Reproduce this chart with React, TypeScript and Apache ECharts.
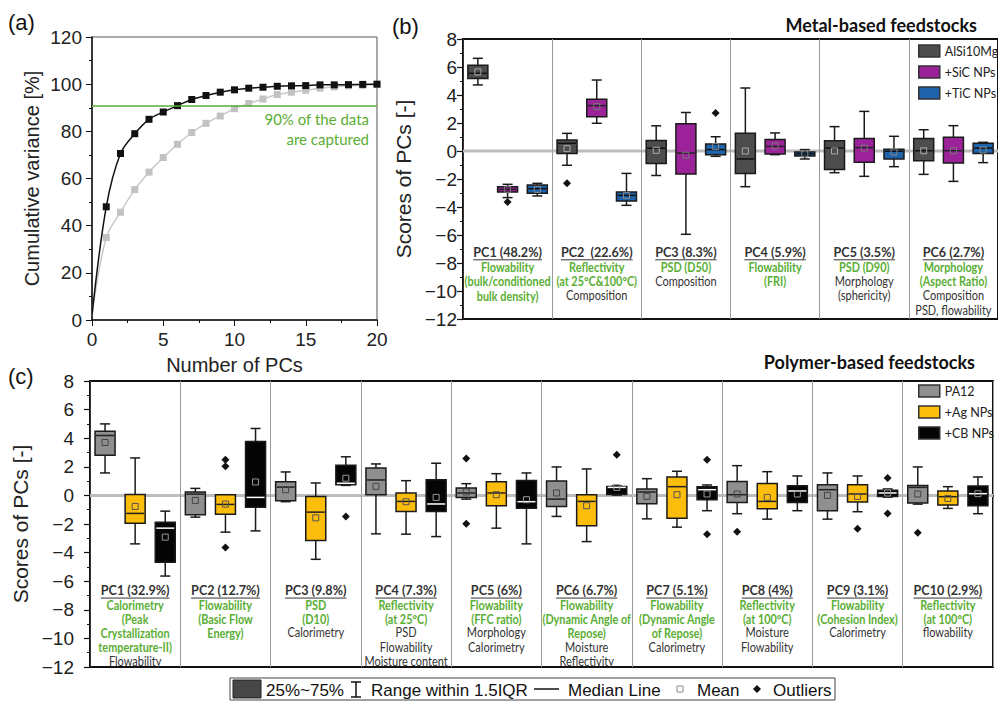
import React, { useEffect, useRef } from 'react';
import * as echarts from 'echarts';

// ---------- Panel (a) data ----------
const pcNumbers = [0, 1, 2, 3, 4, 5, 6, 7, 8, 9, 10, 11, 12, 13, 14, 15, 16, 17, 18, 19, 20];
const cumMetal = [2, 48, 70.6, 79, 85.1, 88.2, 90.9, 93.5, 95.2, 96.6, 97.6, 98.3, 98.7, 99.1, 99.3, 99.4, 99.7, 99.7, 99.8, 99.9, 100];
const cumPolymer = [2, 35, 45.7, 55.3, 62.7, 68.9, 74.5, 79.5, 83.4, 86.5, 89.6, 91.8, 93.7, 95.6, 96.6, 97.4, 98.3, 98.8, 99.3, 99.5, 99.8];
const capturedLevel = 91;

// ---------- Panel (b) data: [lowWhisker, Q1, median, Q3, highWhisker, mean] ----------
const metalPCs = ['PC1 (48.2%)', 'PC2  (22.6%)', 'PC3 (8.3%)', 'PC4 (5.9%)', 'PC5 (3.5%)', 'PC6 (2.7%)'];
const metalKey = [
  ['Flowability', '(bulk/conditioned', 'bulk density)'],
  ['Reflectivity', '(at 25°C&100°C)'],
  ['PSD (D50)'],
  ['Flowability', '(FRI)'],
  ['PSD (D90)'],
  ['Morphology', '(Aspect Ratio)'],
];
const metalOther = [[], ['Composition'], ['Composition'], [], ['Morphology', '(sphericity)'], ['Composition', 'PSD, flowability']];
const alSi10Mg = [
  [4.72, 5.17, 5.55, 6.12, 6.62, 5.65],
  [-1.02, -0.17, 0.55, 0.79, 1.26, 0.17],
  [-1.75, -0.9, 0.2, 0.75, 1.8, 0.05],
  [-2.55, -1.6, -0.57, 1.26, 4.5, 0.0],
  [-1.55, -1.33, 0.21, 0.74, 1.74, 0.0],
  [-1.67, -0.69, 0.02, 0.9, 1.52, 0.02],
];
const sicNPs = [
  [-3.33, -2.93, -2.74, -2.55, -2.38, -2.74],
  [1.98, 2.45, 3.24, 3.69, 5.07, 3.17],
  [-5.95, -1.65, -0.15, 1.95, 2.75, -0.3],
  [-0.26, -0.21, 0.33, 0.83, 1.29, 0.36],
  [-1.81, -0.81, 0.24, 0.9, 2.83, 0.21],
  [-2.17, -0.86, 0.02, 0.98, 1.81, 0.02],
];
const ticNPs = [
  [-3.21, -3.02, -2.69, -2.43, -2.31, -2.74],
  [-3.88, -3.57, -3.17, -2.93, -1.6, -3.17],
  [-0.38, -0.26, 0.1, 0.5, 1.02, 0.33],
  [-0.57, -0.36, -0.21, -0.07, 0.1, -0.21],
  [-1.12, -0.57, -0.02, 0.12, 1.05, -0.07],
  [-0.83, -0.17, 0.21, 0.55, 0.62, 0.07],
];
const alSi10MgOut = [[1, -2.31]];
const sicOut = [[0, -3.64]];
const ticOut = [[2, 2.71]];

// ---------- Panel (c) data ----------
const polyPCs = ['PC1 (32.9%)', 'PC2 (12.7%)', 'PC3 (9.8%)', 'PC4 (7.3%)', 'PC5 (6%)', 'PC6 (6.7%)', 'PC7 (5.1%)', 'PC8 (4%)', 'PC9 (3.1%)', 'PC10 (2.9%)'];
const polyKey = [
  ['Calorimetry', '(Peak', 'Crystallization', 'temperature-II)'],
  ['Flowability', '(Basic Flow', 'Energy)'],
  ['PSD', '(D10)'],
  ['Reflectivity', '(at 25°C)'],
  ['Flowability', '(FFC ratio)'],
  ['Flowability', '(Dynamic Angle of', 'Repose)'],
  ['Flowability', '(Dynamic Angle', 'of Repose)'],
  ['Reflectivity', '(at 100°C)'],
  ['Flowability', '(Cohesion Index)'],
  ['Reflectivity', '(at 100°C)'],
];
const polyOther = [
  ['Flowability'], [], ['Calorimetry'], ['PSD', 'Flowability', 'Moisture content'], ['Morphology', 'Calorimetry'],
  ['Moisture', 'Reflectivity'], ['Calorimetry'], ['Moisture', 'Flowability'], ['Calorimetry'], ['flowability'],
];
const pa12 = [
  [1.57, 2.81, 4.19, 4.49, 5.0, 3.7],
  [-1.52, -1.36, 0.09, 0.23, 0.49, -0.35],
  [-0.44, -0.37, 0.58, 0.96, 1.64, 0.4],
  [-2.69, 0.05, 1.08, 1.92, 2.2, 0.63],
  [-0.26, -0.14, 0.17, 0.52, 0.82, 0.24],
  [-1.47, -0.77, -0.26, 1.01, 1.99, 0.17],
  [-1.64, -0.58, 0.24, 0.45, 1.17, -0.07],
  [-1.28, -0.49, 0.05, 0.98, 2.08, 0.1],
  [-1.66, -1.07, 0.4, 0.75, 1.57, 0.0],
  [-0.61, -0.54, 0.56, 0.7, 1.99, 0.1],
];
const agNPs = [
  [-3.39, -1.94, -1.26, 0.07, 2.62, -0.77],
  [-2.57, -1.31, -0.63, 0.05, 0.05, -0.61],
  [-4.47, -3.16, -1.17, -0.07, 0.87, -1.57],
  [-2.71, -1.12, -0.42, 0.17, 1.03, -0.44],
  [-2.29, -0.72, 0.17, 0.96, 1.52, 0.05],
  [-3.23, -2.13, -0.42, 0.05, 1.85, -0.72],
  [-2.22, -1.59, 0.61, 1.29, 1.69, 0.05],
  [-1.66, -0.93, -0.42, 0.84, 1.66, -0.14],
  [-1.14, -0.47, 0.1, 0.75, 1.36, -0.07],
  [-0.91, -0.68, -0.09, 0.31, 0.61, -0.21],
];
const cbNPs = [
  [-5.64, -4.68, -2.29, -1.87, -1.1, -2.92],
  [-2.48, -0.82, -0.14, 3.77, 4.68, 0.94],
  [0.7, 0.75, 0.85, 2.1, 2.7, 1.2],
  [-2.88, -1.12, -0.6, 1.1, 2.25, -0.14],
  [-3.39, -0.89, -0.44, 1.05, 1.57, -0.3],
  [0.02, 0.07, 0.56, 0.62, 0.68, 0.56],
  [-1.07, -0.3, 0.4, 0.61, 0.73, 0.1],
  [-1.07, -0.49, 0.31, 0.68, 1.36, 0.1],
  [-0.12, -0.07, 0.17, 0.36, 0.45, 0.17],
  [-1.28, -0.72, 0.12, 0.66, 1.29, 0.12],
];
const pa12Out = [[4, 2.58], [4, -1.99], [7, -2.55], [9, -2.62]];
const agOut = [[1, 2.5], [1, 2.04], [1, -3.65], [8, -2.34]];
const cbOut = [[2, -1.47], [5, 2.84], [6, 2.5], [6, -2.71], [8, 1.22], [8, -1.26]];

const scoreTicks = [-12, -10, -8, -6, -4, -2, 0, 2, 4, 6, 8];

// ---------- helpers ----------
const GREEN = '#5aae34';
const AX = 'Liberation Sans, Arial, sans-serif';
const CAL = 'Lato, "Noto Sans", sans-serif';
let measureCtx: CanvasRenderingContext2D | null = null;
const measure = (text: string, font: string) => {
  if (!measureCtx) measureCtx = document.createElement('canvas').getContext('2d');
  if (!measureCtx) return text.length * 6;
  measureCtx.font = font;
  return measureCtx.measureText(text).width;
};
const minus = (v: number) => String(v).replace('-', '\u2212');

function boxSeries(name: string, arr: number[][], g: number, offset: number, fill: string, medianColor: string, meanColor: string) {
  return {
    type: 'custom', name, xAxisIndex: g, yAxisIndex: g, z: 3, silent: true,
    itemStyle: { color: fill, borderColor: '#1a1a1a', borderWidth: 1.5 },
    data: arr.map((d, i) => [i, ...d]),
    encode: { x: 0, y: [1, 2, 3, 4, 5, 6] },
    renderItem: (params: any, api: any) => {
      const i = api.value(0);
      const band = api.size([1, 0])[0];
      const cx = api.coord([i, 0])[0] + offset * band;
      const Y = (k: number) => api.coord([i, api.value(k)])[1];
      const lo = Y(1), q1 = Y(2), med = Y(3), q3 = Y(4), hi = Y(5), mean = Y(6);
      const bw = 20, cw = 10;
      const st = { stroke: '#1a1a1a', lineWidth: 1.5 };
      return {
        type: 'group', children: [
          { type: 'line', shape: { x1: cx, y1: hi, x2: cx, y2: q3 }, style: st },
          { type: 'line', shape: { x1: cx, y1: q1, x2: cx, y2: lo }, style: st },
          { type: 'line', shape: { x1: cx - cw / 2, y1: hi, x2: cx + cw / 2, y2: hi }, style: st },
          { type: 'line', shape: { x1: cx - cw / 2, y1: lo, x2: cx + cw / 2, y2: lo }, style: st },
          { type: 'rect', shape: { x: cx - bw / 2, y: q3, width: bw, height: Math.max(q1 - q3, 1) }, style: { fill, stroke: '#1a1a1a', lineWidth: 1.5 } },
          { type: 'line', shape: { x1: cx - bw / 2 + 1, y1: med, x2: cx + bw / 2 - 1, y2: med }, style: { stroke: medianColor, lineWidth: 1.5 } },
          { type: 'rect', shape: { x: cx - 3, y: mean - 3, width: 6, height: 6 }, style: { fill: 'none', stroke: meanColor, lineWidth: 1 } },
        ],
      };
    },
  };
}

function outlierSeries(arr: number[][], g: number, offset: number) {
  return {
    type: 'custom', xAxisIndex: g, yAxisIndex: g, z: 4, silent: true,
    data: arr,
    renderItem: (params: any, api: any) => {
      const i = api.value(0);
      const band = api.size([1, 0])[0];
      const p = api.coord([i, api.value(1)]);
      const x = p[0] + offset * band, y = p[1], r = 4;
      return { type: 'polygon', shape: { points: [[x, y - r], [x + r, y], [x, y + r], [x - r, y]] }, style: { fill: '#111' } };
    },
  };
}

function labelSeries(titles: string[], keys: string[][], others: string[][], g: number, titleVal: number, gap: number) {
  const tFont = `bold 13px ${CAL}`;
  const kFont = `bold 12.5px ${CAL}`;
  const oFont = `12.5px ${CAL}`;
  const tScale = 0.97, kScale = 0.87, oScale = 0.88;
  const txt = (text: string, x: number, y: number, font: string, fill: string, s: number) => ({
    type: 'text', x, y, scaleX: s, scaleY: 1,
    style: { text, x: 0, y: 0, fill, font, align: 'center', verticalAlign: 'middle' },
  });
  return {
    type: 'custom', xAxisIndex: g, yAxisIndex: g, z: 1, silent: true,
    data: titles.map((_, i) => [i, 0]),
    renderItem: (params: any, api: any) => {
      const i = params.dataIndex;
      const band = api.size([1, 0])[0];
      const c = api.coord([i, 0]);
      const cx = c[0], y0 = c[1];
      const yT = api.coord([i, titleVal])[1];
      const tw = measure(titles[i], tFont) * tScale;
      const children: any[] = [
        { type: 'line', shape: { x1: cx - band / 2, y1: y0, x2: cx + band / 2, y2: y0 }, style: { stroke: '#bdbdbd', lineWidth: 3 } },
        txt(titles[i], cx, yT, tFont, '#333', tScale),
        { type: 'line', shape: { x1: cx - tw / 2, y1: yT + 8, x2: cx + tw / 2, y2: yT + 8 }, style: { stroke: '#333', lineWidth: 1 } },
      ];
      let n = 1;
      keys[i].forEach((t) => { children.push(txt(t, cx, yT + gap * n, kFont, GREEN, kScale)); n++; });
      others[i].forEach((t) => { children.push(txt(t, cx, yT + gap * n, oFont, '#333', oScale)); n++; });
      return { type: 'group', children };
    },
  };
}

function scoreYAxis(g: number, margin: number, nameGap: number) {
  return {
    type: 'value', gridIndex: g, min: scoreTicks[0], max: scoreTicks[scoreTicks.length - 1], interval: 2,
    name: 'Scores of PCs [-]', nameLocation: 'middle', nameGap, nameRotate: 90,
    nameTextStyle: { fontSize: 21, color: '#222', fontFamily: AX },
    axisLine: { show: true, lineStyle: { color: '#111', width: 1.5 } },
    axisTick: { show: true, length: 6, lineStyle: { color: '#111', width: 1.2 } },
    minorTick: { show: true, splitNumber: 2, length: 3, lineStyle: { color: '#111', width: 1 } },
    axisLabel: { fontSize: 19, color: '#222', fontFamily: AX, margin, formatter: (v: number) => minus(v) },
    splitLine: { show: false },
  };
}

function catXAxis(g: number, cats: string[]) {
  return {
    type: 'category', gridIndex: g, data: cats, boundaryGap: true,
    axisLine: { show: true, lineStyle: { color: '#111', width: 2 } },
    axisTick: { show: false }, axisLabel: { show: false },
    splitLine: { show: true, interval: 0, lineStyle: { color: '#9a9a9a', width: 1 } },
  };
}

export default function App() {
  const ref = useRef<HTMLDivElement>(null);
  useEffect(() => {
    if (!ref.current) return;
    const chart = echarts.init(ref.current, undefined, { renderer: 'svg' });
    const legendText = { fontSize: 12.5, lineHeight: 16, color: '#222', fontFamily: CAL };
    const legItem = (name: string, color: string) => ({ name, itemStyle: { color, borderColor: '#333', borderWidth: 1.5 } });
    const gt = (text: string, x: number, y: number, font: string, fill = '#111', align = 'left') => ({
      type: 'text', x, y, style: { text, font, fill, align, verticalAlign: 'middle' },
    });
    const st = { stroke: '#111', lineWidth: 1.5 };
    chart.setOption({
      animation: false,
      backgroundColor: '#fff',
      grid: [
        { left: 92, top: 37, width: 285, height: 283, show: true, borderColor: '#555', borderWidth: 1 },
        { left: 463, top: 39, width: 540, height: 280, show: true, borderColor: '#111', borderWidth: 2 },
        { left: 90, top: 381, width: 903, height: 286, show: true, borderColor: '#111', borderWidth: 2 },
      ],
      xAxis: [
        {
          type: 'value', gridIndex: 0, min: 0, max: 20, interval: 5,
          name: 'Number of PCs', nameLocation: 'middle', nameGap: 35,
          nameTextStyle: { fontSize: 20, color: '#222', fontFamily: AX },
          axisLine: { show: true, lineStyle: { color: '#111', width: 1.5 } },
          axisTick: { show: true, length: 6, lineStyle: { color: '#111' } },
          minorTick: { show: true, splitNumber: 2, length: 3, lineStyle: { color: '#111' } },
          axisLabel: { fontSize: 19, color: '#222', fontFamily: AX, margin: 10 },
          splitLine: { show: false },
        },
        catXAxis(1, metalPCs),
        catXAxis(2, polyPCs),
      ],
      yAxis: [
        {
          type: 'value', gridIndex: 0, min: 0, max: 120, interval: 20,
          name: 'Cumulative variance [%]', nameLocation: 'middle', nameGap: 50, nameRotate: 90,
          nameTextStyle: { fontSize: 20, color: '#222', fontFamily: AX },
          axisLine: { show: true, lineStyle: { color: '#111', width: 1.5 } },
          axisTick: { show: true, length: 6, lineStyle: { color: '#111' } },
          minorTick: { show: true, splitNumber: 2, length: 3, lineStyle: { color: '#111' } },
          axisLabel: { fontSize: 19, color: '#222', fontFamily: AX, margin: 10 },
          splitLine: { show: false },
        },
        scoreYAxis(1, 6, 45),
        scoreYAxis(2, 16, 52),
      ],
      legend: [
        {
          left: 918, top: 43, orient: 'vertical', itemWidth: 21, itemHeight: 12, itemGap: 5, padding: 0,
          icon: 'rect', selectedMode: false, textStyle: legendText,
          data: [legItem('AlSi10Mg', '#4d4d4d'), legItem('+SiC NPs', '#9c229a'), legItem('+TiC NPs', '#1e63a9')],
        },
        {
          left: 918, top: 383, orient: 'vertical', itemWidth: 21, itemHeight: 12, itemGap: 5, padding: 0,
          icon: 'rect', selectedMode: false, textStyle: legendText,
          data: [legItem('PA12', '#8f8f8f'), legItem('+Ag NPs', '#fcbd0b'), legItem('+CB NPs', '#050505')],
        },
      ],
      series: [
        {
          type: 'line', name: 'metal-cum', xAxisIndex: 0, yAxisIndex: 0, smooth: 0.35, z: 3,
          symbol: 'rect', symbolSize: 7,
          itemStyle: { color: '#111' }, lineStyle: { color: '#111', width: 1.5 },
          data: pcNumbers.map((x, i) => (i === 0 ? { value: [x, cumMetal[i]], symbol: 'none' } : [x, cumMetal[i]])),
          markLine: {
            silent: true, symbol: 'none', label: { show: false },
            lineStyle: { color: GREEN, width: 1.5, type: 'solid' },
            data: [{ yAxis: capturedLevel }],
          },
        },
        {
          type: 'line', name: 'poly-cum', xAxisIndex: 0, yAxisIndex: 0, smooth: 0.35, z: 2,
          symbol: 'rect', symbolSize: 7,
          itemStyle: { color: '#c2c2c2' }, lineStyle: { color: '#c8c8c8', width: 1.5 },
          data: pcNumbers.map((x, i) => (i === 0 ? { value: [x, cumPolymer[i]], symbol: 'none' } : [x, cumPolymer[i]])),
        },
        labelSeries(metalPCs, metalKey, metalOther, 1, -7.2, 14.5),
        boxSeries('AlSi10Mg', alSi10Mg, 1, -1 / 3, '#4d4d4d', '#111', '#aaa'),
        boxSeries('+SiC NPs', sicNPs, 1, 0, '#9c229a', '#222', '#777'),
        boxSeries('+TiC NPs', ticNPs, 1, 1 / 3, '#1e63a9', '#111', '#888'),
        outlierSeries(alSi10MgOut, 1, -1 / 3),
        outlierSeries(sicOut, 1, 0),
        outlierSeries(ticOut, 1, 1 / 3),
        labelSeries(polyPCs, polyKey, polyOther, 2, -6.62, 14.2),
        boxSeries('PA12', pa12, 2, -1 / 3, '#8f8f8f', '#222', '#444'),
        boxSeries('+Ag NPs', agNPs, 2, 0, '#fcbd0b', '#222', '#555'),
        boxSeries('+CB NPs', cbNPs, 2, 1 / 3, '#050505', '#fff', '#999'),
        outlierSeries(pa12Out, 2, -1 / 3),
        outlierSeries(agOut, 2, 0),
        outlierSeries(cbOut, 2, 1 / 3),
      ],
      graphic: [
        gt('(a)', 8, 22, `22px ${AX}`),
        gt('(b)', 392, 26, `22px ${AX}`),
        gt('(c)', 8, 376, `22px ${AX}`),
        gt('Metal-based feedstocks', 977, 25, `bold 18px ${CAL}`, '#111', 'right'),
        gt('Polymer-based feedstocks', 975, 362, `bold 18px ${CAL}`, '#111', 'right'),
        gt('90% of the data', 369, 119, `15px ${CAL}`, GREEN, 'right'),
        gt('are captured', 369, 139, `15px ${CAL}`, GREEN, 'right'),
        // bottom key
        { type: 'rect', shape: { x: 230, y: 678, width: 605, height: 22 }, style: { fill: 'none', stroke: '#444', lineWidth: 1 } },
        { type: 'rect', shape: { x: 233, y: 680, width: 28, height: 18 }, style: { fill: '#474747', stroke: '#222', lineWidth: 1 } },
        gt('25%~75%', 266, 690, `17px ${AX}`),
        { type: 'line', shape: { x1: 356, y1: 682, x2: 356, y2: 697 }, style: st },
        { type: 'line', shape: { x1: 351, y1: 682, x2: 361, y2: 682 }, style: st },
        { type: 'line', shape: { x1: 351, y1: 697, x2: 361, y2: 697 }, style: st },
        gt('Range within 1.5IQR', 371, 690, `17px ${AX}`),
        { type: 'line', shape: { x1: 534, y1: 689, x2: 559, y2: 689 }, style: st },
        gt('Median Line', 568, 690, `17px ${AX}`),
        { type: 'rect', shape: { x: 677, y: 686, width: 6, height: 6 }, style: { fill: 'none', stroke: '#888', lineWidth: 1 } },
        gt('Mean', 697, 690, `17px ${AX}`),
        { type: 'polygon', shape: { points: [[757, 685], [761, 689], [757, 693], [753, 689]] }, style: { fill: '#111' } },
        gt('Outliers', 773, 690, `17px ${AX}`),
      ],
    });
    return () => chart.dispose();
  }, []);
  return <div ref={ref} style={{ position: 'fixed', left: 0, top: 0, width: 998, height: 701 }} />;
}
